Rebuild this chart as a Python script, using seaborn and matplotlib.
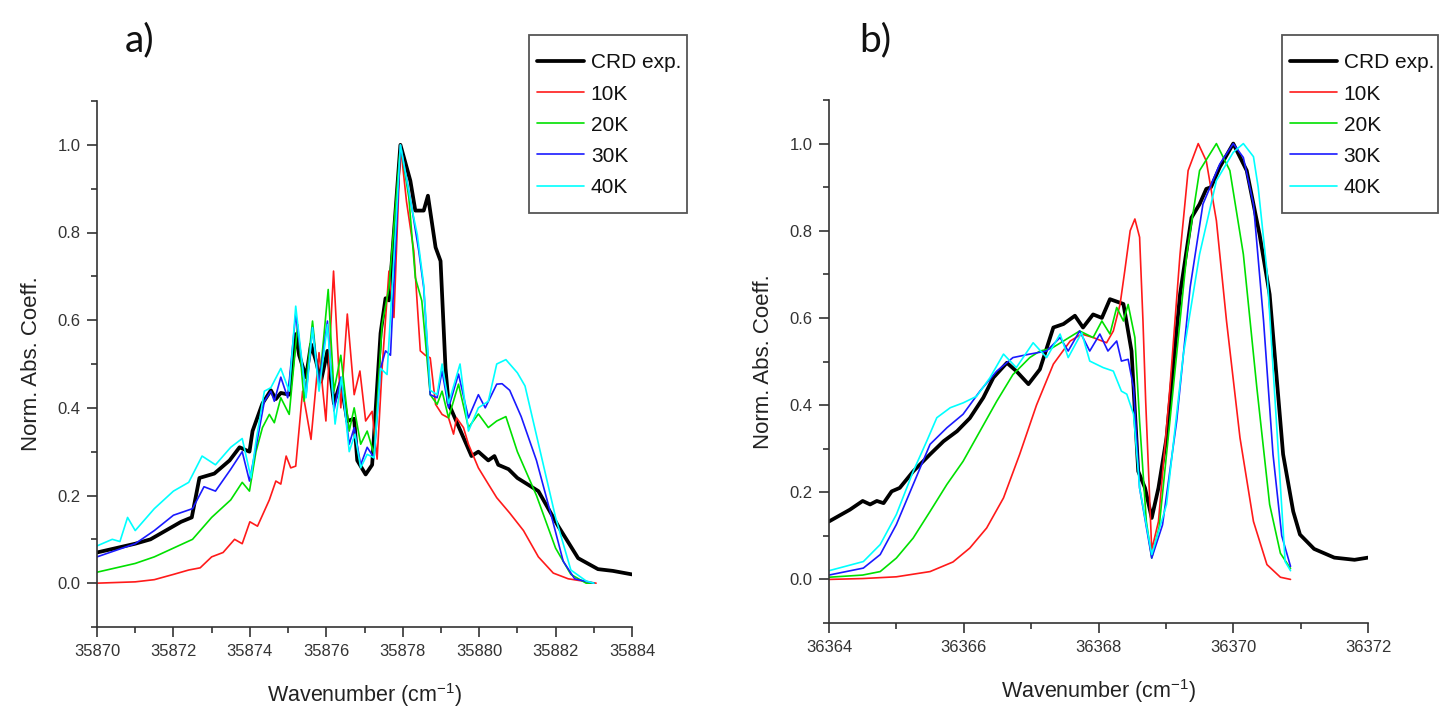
import matplotlib
matplotlib.use("Agg")
import matplotlib.pyplot as plt
import seaborn as sns
import pandas as pd
from matplotlib.ticker import MultipleLocator
from matplotlib.patches import Rectangle

# ---------------- data: panel a ----------------
crd_a_x = [35870, 35870.5, 35871, 35871.4, 35871.8, 35872.2, 35872.48, 35872.68, 35873.07, 35873.47,
           35873.73, 35873.99, 35874.07, 35874.33, 35874.55, 35874.68, 35874.81, 35875.03, 35875.2, 35875.29,
           35875.47, 35875.6, 35875.73, 35875.86, 35876.03, 35876.2, 35876.38, 35876.55, 35876.73, 35876.81,
           35877.03, 35877.2, 35877.42, 35877.55, 35877.64, 35877.77, 35877.94, 35878.2, 35878.33, 35878.55,
           35878.66, 35878.86, 35878.99, 35879.12, 35879.2, 35879.55, 35879.8, 35879.98, 35880.24, 35880.4,
           35880.5, 35880.77, 35881.0, 35881.55, 35882.07, 35882.59, 35883.11, 35883.5, 35884]
crd_a_y = [0.07, 0.08, 0.09, 0.10, 0.12, 0.14, 0.15, 0.24, 0.25, 0.28,
           0.31, 0.30, 0.347, 0.41, 0.44, 0.42, 0.434, 0.43, 0.568, 0.52,
           0.47, 0.545, 0.507, 0.46, 0.53, 0.41, 0.46, 0.37, 0.375, 0.28,
           0.248, 0.27, 0.57, 0.65, 0.645, 0.80, 1.0, 0.918, 0.85, 0.85,
           0.884, 0.766, 0.735, 0.49, 0.41, 0.34, 0.29, 0.30, 0.28, 0.29,
           0.27, 0.26, 0.24, 0.21, 0.13, 0.057, 0.032, 0.028, 0.02]

k10_a_x = [35870, 35871, 35871.5, 35872, 35872.4, 35872.7, 35873, 35873.3, 35873.6, 35873.8,
           35874, 35874.2, 35874.51, 35874.68, 35874.81, 35874.95, 35875.07, 35875.2, 35875.38, 35875.6,
           35875.81, 35875.99, 35876.19, 35876.38, 35876.55, 35876.73, 35876.88, 35877.03, 35877.2, 35877.33,
           35877.46, 35877.64, 35877.77, 35877.94, 35878.1, 35878.29, 35878.46, 35878.59, 35878.72, 35878.86,
           35879.03, 35879.2, 35879.33, 35879.41, 35879.59, 35879.72, 35879.98, 35880.24, 35880.46, 35880.8,
           35881.16, 35881.55, 35881.94, 35882.33, 35883.06]
k10_a_y = [0.0, 0.003, 0.008, 0.02, 0.03, 0.035, 0.06, 0.07, 0.1, 0.09,
           0.14, 0.13, 0.19, 0.233, 0.226, 0.29, 0.263, 0.267, 0.438, 0.328,
           0.526, 0.37, 0.712, 0.40, 0.614, 0.43, 0.484, 0.37, 0.392, 0.283,
           0.49, 0.712, 0.606, 1.0, 0.87, 0.758, 0.53, 0.52, 0.514, 0.408,
           0.385, 0.377, 0.34, 0.377, 0.355, 0.317, 0.263, 0.226, 0.195, 0.16,
           0.12, 0.06, 0.023, 0.01, 0.0]

k20_a_x = [35870, 35870.5, 35871, 35871.5, 35872, 35872.5, 35873, 35873.5, 35873.8, 35873.99,
           35874.16, 35874.33, 35874.51, 35874.64, 35874.81, 35875.03, 35875.25, 35875.42, 35875.64, 35875.81,
           35876.05, 35876.2, 35876.38, 35876.6, 35876.73, 35876.9, 35877.07, 35877.25, 35877.46, 35877.64,
           35877.94, 35878.16, 35878.33, 35878.5, 35878.72, 35878.9, 35879.03, 35879.2, 35879.46, 35879.72,
           35879.98, 35880.24, 35880.46, 35880.7, 35881.0, 35881.5, 35882.0, 35882.4, 35882.8, 35883.0]
k20_a_y = [0.025, 0.035, 0.045, 0.06, 0.08, 0.1, 0.15, 0.19, 0.23, 0.21,
           0.30, 0.355, 0.385, 0.366, 0.423, 0.385, 0.59, 0.415, 0.598, 0.446,
           0.67, 0.438, 0.52, 0.347, 0.40, 0.317, 0.347, 0.294, 0.59, 0.674,
           1.0, 0.88, 0.697, 0.644, 0.43, 0.408, 0.438, 0.377, 0.454, 0.355,
           0.386, 0.355, 0.37, 0.38, 0.30, 0.2, 0.08, 0.02, 0.0, 0.0]

k30_a_x = [35870, 35870.5, 35871, 35871.5, 35872, 35872.5, 35872.8, 35873.1, 35873.5, 35873.8,
           35873.99, 35874.16, 35874.38, 35874.55, 35874.64, 35874.81, 35874.99, 35875.2, 35875.47, 35875.64,
           35875.81, 35876.03, 35876.2, 35876.38, 35876.6, 35876.73, 35876.9, 35877.07, 35877.25, 35877.42,
           35877.55, 35877.68, 35877.94, 35878.25, 35878.42, 35878.55, 35878.72, 35878.9, 35879.03, 35879.2,
           35879.46, 35879.72, 35879.98, 35880.16, 35880.46, 35880.6, 35880.8, 35881.1, 35881.5, 35881.9,
           35882.2, 35882.5, 35883.0]
k30_a_y = [0.06, 0.075, 0.09, 0.12, 0.155, 0.17, 0.22, 0.21, 0.26, 0.30,
           0.233, 0.31, 0.415, 0.438, 0.415, 0.47, 0.423, 0.614, 0.43, 0.583,
           0.454, 0.598, 0.393, 0.47, 0.317, 0.355, 0.27, 0.31, 0.286, 0.49,
           0.53, 0.52, 1.0, 0.85, 0.758, 0.674, 0.43, 0.423, 0.484, 0.40,
           0.477, 0.377, 0.43, 0.40, 0.454, 0.455, 0.44, 0.38, 0.28, 0.15,
           0.05, 0.01, 0.0]

k40_a_x = [35870, 35870.4, 35870.6, 35870.8, 35871.0, 35871.5, 35872.0, 35872.4, 35872.75, 35873.1,
           35873.5, 35873.8, 35874.03, 35874.16, 35874.38, 35874.55, 35874.81, 35875.03, 35875.2, 35875.47,
           35875.64, 35875.81, 35876.03, 35876.23, 35876.4, 35876.6, 35876.75, 35876.9, 35877.07, 35877.25,
           35877.42, 35877.59, 35877.94, 35878.25, 35878.38, 35878.55, 35878.72, 35878.9, 35879.03, 35879.2,
           35879.5, 35879.72, 35879.98, 35880.24, 35880.46, 35880.7, 35881.0, 35881.2, 35881.6, 35882.0,
           35882.4, 35882.8, 35883.0]
k40_a_y = [0.085, 0.10, 0.095, 0.15, 0.12, 0.17, 0.21, 0.23, 0.29, 0.27,
           0.31, 0.33, 0.24, 0.324, 0.438, 0.446, 0.49, 0.438, 0.632, 0.423,
           0.583, 0.438, 0.59, 0.363, 0.47, 0.30, 0.34, 0.263, 0.294, 0.286,
           0.49, 0.476, 1.0, 0.85, 0.796, 0.68, 0.44, 0.43, 0.50, 0.41,
           0.50, 0.347, 0.40, 0.415, 0.50, 0.51, 0.48, 0.45, 0.30, 0.15,
           0.03, 0.005, 0.0]

# ---------------- data: panel b ----------------
crd_b_x = [36364.0, 36364.31, 36364.5, 36364.61, 36364.71, 36364.81, 36364.93, 36365.05, 36365.25, 36365.5,
           36365.7, 36365.9, 36366.09, 36366.29, 36366.44, 36366.64, 36366.78, 36366.96, 36367.13, 36367.33,
           36367.48, 36367.65, 36367.77, 36367.92, 36368.05, 36368.17, 36368.37, 36368.49, 36368.59, 36368.69,
           36368.79, 36368.89, 36369.01, 36369.21, 36369.38, 36369.5, 36369.6, 36369.67, 36369.8, 36370.0,
           36370.2, 36370.39, 36370.54, 36370.74, 36370.89, 36370.99, 36371.2, 36371.5, 36371.8, 36372.0]
crd_b_y = [0.133, 0.16, 0.18, 0.172, 0.18, 0.175, 0.202, 0.21, 0.248, 0.287,
           0.317, 0.34, 0.37, 0.417, 0.463, 0.497, 0.478, 0.448, 0.482, 0.578,
           0.586, 0.605, 0.578, 0.608, 0.60, 0.643, 0.632, 0.524, 0.248, 0.21,
           0.141, 0.21, 0.325, 0.654, 0.83, 0.861, 0.896, 0.90, 0.946, 1.0,
           0.938, 0.792, 0.654, 0.287, 0.156, 0.103, 0.07, 0.05, 0.045, 0.05]

k10_b_x = [36364, 36364.5, 36365, 36365.5, 36365.84, 36366.09, 36366.34, 36366.59, 36366.83, 36367.08,
           36367.33, 36367.58, 36367.75, 36367.92, 36368.12, 36368.22, 36368.32, 36368.39, 36368.47, 36368.54,
           36368.61, 36368.66, 36368.7, 36368.79, 36368.89, 36369.06, 36369.21, 36369.33, 36369.48, 36369.6,
           36369.75, 36369.9, 36370.1, 36370.3, 36370.5, 36370.7, 36370.85]
k10_b_y = [0.0, 0.002, 0.006, 0.018, 0.04, 0.072, 0.118, 0.187, 0.287, 0.40,
           0.494, 0.547, 0.563, 0.555, 0.543, 0.57, 0.631, 0.708, 0.80, 0.827,
           0.785, 0.593, 0.41, 0.068, 0.133, 0.44, 0.746, 0.938, 1.0, 0.96,
           0.823, 0.593, 0.325, 0.133, 0.034, 0.005, 0.0]

k20_b_x = [36364, 36364.5, 36364.76, 36365.0, 36365.25, 36365.5, 36365.75, 36365.99, 36366.24, 36366.49,
           36366.73, 36366.98, 36367.13, 36367.3, 36367.48, 36367.72, 36367.92, 36368.05, 36368.17, 36368.27,
           36368.37, 36368.44, 36368.54, 36368.61, 36368.71, 36368.79, 36368.9, 36369.11, 36369.31, 36369.5,
           36369.75, 36369.95, 36370.15, 36370.35, 36370.54, 36370.7, 36370.85]
k20_b_y = [0.005, 0.01, 0.018, 0.049, 0.095, 0.156, 0.218, 0.271, 0.34, 0.409,
           0.47, 0.509, 0.524, 0.53, 0.547, 0.57, 0.555, 0.593, 0.563, 0.624,
           0.593, 0.631, 0.555, 0.363, 0.133, 0.049, 0.12, 0.44, 0.746, 0.938,
           1.0, 0.938, 0.746, 0.44, 0.172, 0.06, 0.025]

k30_b_x = [36364, 36364.51, 36364.76, 36365.0, 36365.25, 36365.5, 36365.75, 36365.99, 36366.24, 36366.49,
           36366.73, 36366.98, 36367.23, 36367.43, 36367.55, 36367.72, 36367.87, 36368.02, 36368.14, 36368.27,
           36368.34, 36368.44, 36368.52, 36368.61, 36368.79, 36368.95, 36369.16, 36369.36, 36369.55, 36369.8,
           36370.0, 36370.15, 36370.3, 36370.45, 36370.59, 36370.72, 36370.85]
k30_b_y = [0.01, 0.026, 0.057, 0.126, 0.218, 0.31, 0.348, 0.379, 0.432, 0.478,
           0.509, 0.517, 0.524, 0.555, 0.524, 0.57, 0.524, 0.563, 0.524, 0.547,
           0.501, 0.505, 0.44, 0.21, 0.049, 0.125, 0.363, 0.67, 0.861, 0.953,
           1.0, 0.968, 0.861, 0.593, 0.287, 0.1, 0.03]

k40_b_x = [36364, 36364.51, 36364.76, 36365.0, 36365.25, 36365.45, 36365.6, 36365.8, 36365.99, 36366.19,
           36366.39, 36366.59, 36366.78, 36367.03, 36367.23, 36367.43, 36367.55, 36367.75, 36367.87, 36368.07,
           36368.22, 36368.34, 36368.42, 36368.52, 36368.61, 36368.79, 36369.01, 36369.26, 36369.5, 36369.75,
           36370.0, 36370.15, 36370.3, 36370.37, 36370.5, 36370.64, 36370.77, 36370.85]
k40_b_y = [0.02, 0.041, 0.08, 0.149, 0.248, 0.317, 0.371, 0.394, 0.405, 0.42,
           0.463, 0.517, 0.486, 0.543, 0.509, 0.563, 0.509, 0.566, 0.501, 0.486,
           0.478, 0.432, 0.425, 0.379, 0.21, 0.057, 0.172, 0.517, 0.746, 0.915,
           0.98, 1.0, 0.97, 0.9, 0.708, 0.363, 0.041, 0.02]

series_labels = ["CRD exp.", "10K", "20K", "30K", "40K"]
panel_a = [(crd_a_x, crd_a_y), (k10_a_x, k10_a_y), (k20_a_x, k20_a_y), (k30_a_x, k30_a_y), (k40_a_x, k40_a_y)]
panel_b = [(crd_b_x, crd_b_y), (k10_b_x, k10_b_y), (k20_b_x, k20_b_y), (k30_b_x, k30_b_y), (k40_b_x, k40_b_y)]

colors = ["#000000", "#ff1a1a", "#00e000", "#1a1aff", "#00ffff"]
widths = [2.7, 1.2, 1.2, 1.2, 1.2]

# ---------------- style ----------------
sns.set_theme(style="ticks")
plt.rcParams["font.family"] = ["Liberation Sans", "DejaVu Sans"]
plt.rcParams["mathtext.default"] = "regular"

W, H = 1439, 712
fig = plt.figure(figsize=(W / 100, H / 100), dpi=100)
axA = fig.add_axes([97 / W, 1 - 627 / H, (632 - 97) / W, (627 - 101) / H])
axB = fig.add_axes([829 / W, 1 - 623 / H, (1368 - 829) / W, (623 - 100) / H])

axis_col = "#333333"


def draw(ax, data, xlim, box, handle_left):
    for (xs, ys), lab, c, lw in zip(data, series_labels, colors, widths):
        df = pd.DataFrame({"x": xs, "y": ys})
        sns.lineplot(data=df, x="x", y="y", ax=ax, color=c, linewidth=lw,
                     label=lab, estimator=None, sort=False)
    ax.set_xlim(*xlim)
    ax.set_ylim(-0.1, 1.1)
    ax.xaxis.set_major_locator(MultipleLocator(2))
    ax.xaxis.set_minor_locator(MultipleLocator(1))
    ax.yaxis.set_minor_locator(MultipleLocator(0.1))
    ax.xaxis.get_major_formatter().set_useOffset(False)
    ax.set_yticks([0.0, 0.2, 0.4, 0.6, 0.8, 1.0])
    ax.set_yticklabels(["0.0", "0.2", "0.4", "0.6", "0.8", "1.0"])
    for s in ["top", "right"]:
        ax.spines[s].set_visible(False)
    for s in ["left", "bottom"]:
        ax.spines[s].set_linewidth(1.2)
        ax.spines[s].set_color(axis_col)
    ax.tick_params(which="major", direction="out", length=7, width=1.2, color=axis_col,
                   labelsize=12, labelcolor="#333333", pad=5)
    ax.tick_params(which="minor", direction="out", length=4, width=1.2, color=axis_col)
    ax.set_xlabel("Wavenumber (cm$^{-1}$)", fontsize=15.5, color="#222222", labelpad=16)
    ax.set_ylabel("Norm. Abs. Coeff.", fontsize=16, color="#222222", labelpad=11)
    ax.set_facecolor("white")

    # legend entries (frameless) + separate frame box
    leg = ax.legend(loc="upper left", bbox_to_anchor=(handle_left / W, 1 - 53.5 / H),
                    bbox_transform=fig.transFigure, frameon=False, fontsize=15,
                    handlelength=2.25, handletextpad=0.33, labelspacing=0.58,
                    borderpad=0, borderaxespad=0)
    for t in leg.get_texts():
        t.set_color("#111111")
    x0, y0, x1, y1 = box
    fig.patches.append(Rectangle((x0 / W, 1 - y1 / H), (x1 - x0) / W, (y1 - y0) / H,
                                 transform=fig.transFigure, fill=False,
                                 edgecolor="#555555", linewidth=1.3, zorder=5))


draw(axA, panel_a, (35870, 35884), (529, 35, 687, 213), 537)
draw(axB, panel_b, (36364, 36372), (1282, 35, 1438, 213), 1290)

fig.text(140 / W, 1 - 40 / H, "a)", fontsize=28, ha="center", va="center",
         family=["Lato", "DejaVu Sans"], color="#111111")
fig.text(875 / W, 1 - 40 / H, "b)", fontsize=28, ha="center", va="center",
         family=["Lato", "DejaVu Sans"], color="#111111")

fig.savefig("out.png", dpi=100, facecolor="white")
